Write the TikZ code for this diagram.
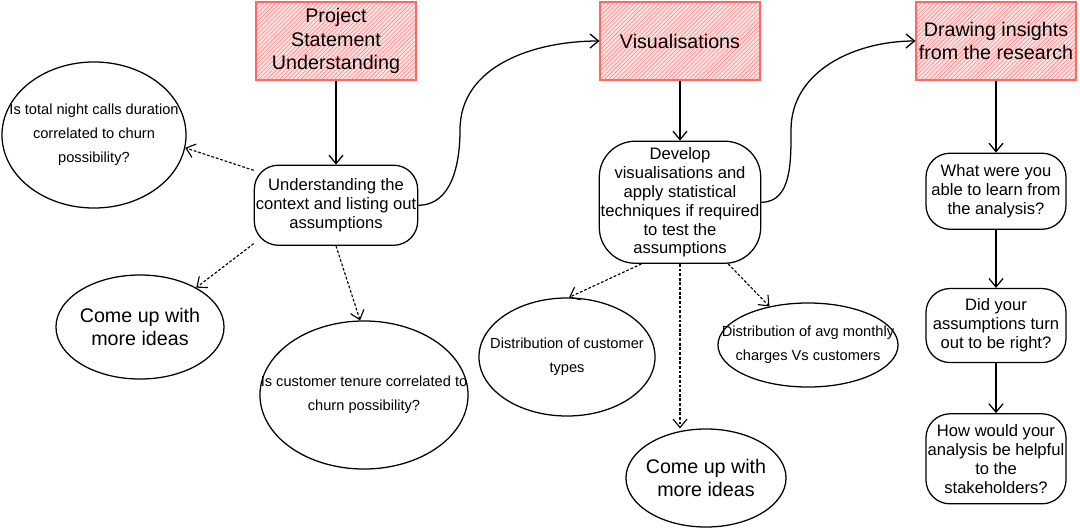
\documentclass[tikz,border=0pt]{standalone}
\usepackage{fontspec}
\setmainfont{Liberation Sans}
\usepackage{tikz}
\usetikzlibrary{shapes.geometric, arrows.meta, positioning, patterns, calc}
\tikzset{>={Straight Barb[length=6pt,width=10pt]}}
\usepackage{xcolor}
\colorlet{boxred}{red!60}
\colorlet{boxpink}{red!12}
\tikzstyle{topic}=[draw=boxred, thick, preaction={fill=boxpink}, pattern=north east lines, pattern color=boxred!80, minimum width=4cm, minimum height=1.95cm, inner sep=1pt, align=center, font=\fontsize{14}{17}\selectfont]
\tikzstyle{stepnode}=[draw, line width=0.9pt, rounded corners=0.6cm, inner sep=1pt, align=center, font=\fontsize{11.8}{13.5}\selectfont]
\tikzstyle{idea}=[draw, line width=0.9pt, ellipse, inner sep=0]
\tikzstyle{ideatext}=[align=center, font=\fontsize{10.4}{17}\selectfont]
\tikzstyle{bigtext}=[align=center, font=\fontsize{14}{17}\selectfont]
\tikzstyle{flow}=[->, line width=0.9pt]
\tikzstyle{hint}=[->, thick, dash pattern=on 2pt off 1.3pt]

\begin{document}
\begin{tikzpicture}[x=0.025cm, y=-0.025cm]
            \useasboundingbox (0,0) rectangle (1080,532);
            \node[topic] (project) at (336,41) {Project\\Statement\\Understanding};
            \node[topic] (visual) at (680,41) {Visualisations};
            \node[topic] (insight) at (996,41) {Drawing insights\\from the research};

            \node[stepnode, minimum width=4cm, minimum height=2cm, below=2.1cm of project] (context) {Understanding the\\context and listing out\\assumptions};
            \node[stepnode, rounded corners=0.9cm, minimum width=3.9cm, minimum height=3.05cm, below=1.5cm of visual] (develop) {Develop\\visualisations and\\apply statistical\\techniques if required\\to test the\\assumptions};
            \node[stepnode, minimum width=3.5cm, minimum height=1.9cm, below=1.8cm of insight] (learn) {What were you\\able to learn from\\the analysis?};
            \node[stepnode, minimum width=3.5cm, minimum height=1.85cm, below=1.45cm of learn] (right) {Did your\\assumptions turn\\out to be right?};
            \node[stepnode, minimum width=3.5cm, minimum height=2.25cm, below=1.25cm of right] (helpful) {How would your\\analysis be helpful\\to the\\stakeholders?};

            \node[idea, minimum width=4.6cm, minimum height=3.65cm, label={[ideatext]center:{Is total night calls duration\\correlated to churn\\possibility?}}] (night) at (94,135) {};
            \node[idea, minimum width=4.2cm, minimum height=2.6cm, label={[bigtext]center:{Come up with\\more ideas}}] (more1) at (140,327) {};
            \node[idea, minimum width=5.2cm, minimum height=3.7cm, label={[ideatext]center:{Is customer tenure correlated to\\churn possibility?}}] (tenure) at (364,395) {};
            \node[idea, minimum width=4.4cm, minimum height=2.95cm, label={[ideatext]center:{Distribution of customer\\types}}] (types) at (567,357) {};
            \node[idea, minimum width=4.5cm, minimum height=2.1cm, label={[ideatext]center:{Distribution of avg monthly\\charges Vs customers}}] (charges) at (808,345) {};
            \node[idea, minimum width=4cm, minimum height=2.45cm, label={[bigtext]center:{Come up with\\more ideas}}] (more2) at (706,478) {};

            \coordinate (bend1) at (460,130);
            \coordinate (bend2) at (791,130);

            \draw[flow] (project) -- (context);
            \draw[flow] (visual) -- (develop);
            \draw[flow] (insight) -- (learn);
            \draw[flow] (learn) -- (right);
            \draw[flow] (right) -- (helpful);
            \draw[flow] (context.east) to[out=0, in=-90] (bend1) to[out=90, in=180] (visual.west);
            \draw[flow] (develop.east) to[out=0, in=-90] (bend2) to[out=90, in=180] (insight.west);

            \draw[hint] (context.157) -- (night.-8);
            \draw[hint] (context.205) -- (more1.35);
            \draw[hint] (context.south) -- (tenure.93);
            \draw[hint] (develop.238) -- (types.88);
            \draw[hint] (develop.south) -- (develop.south |- more2.north);
            \draw[hint] (develop.308) -- (charges.135);
        \end{tikzpicture}
\end{document}
